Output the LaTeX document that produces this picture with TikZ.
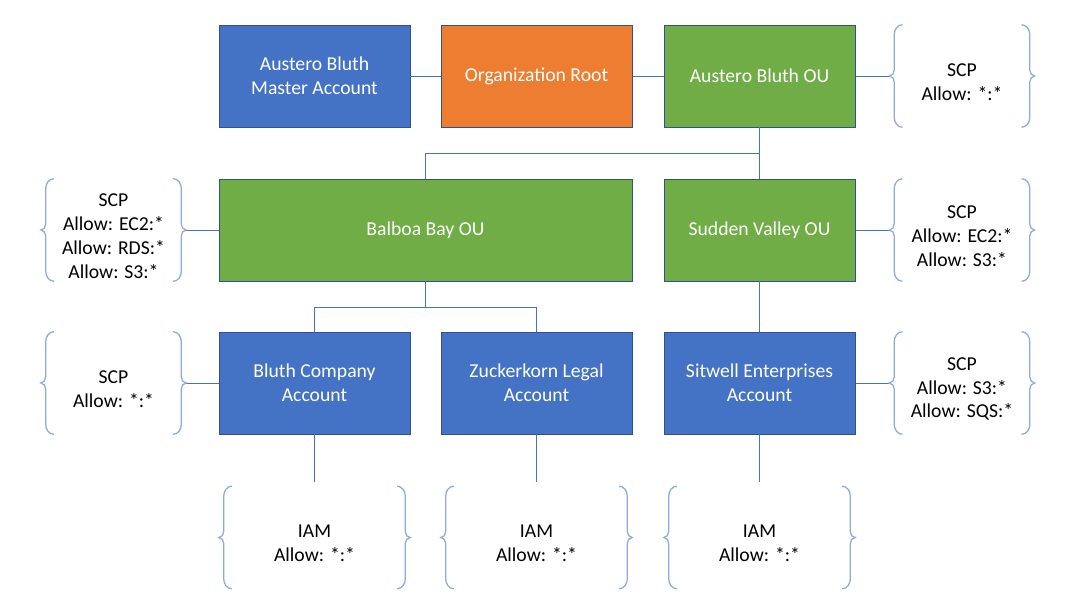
\documentclass[tikz,border=0pt]{standalone}
\usepackage{fontspec}
\setmainfont{Carlito}
\usetikzlibrary{positioning}
\definecolor{acctblue}{HTML}{4472C4}
\definecolor{rootorange}{HTML}{ED7D31}
\definecolor{ougreen}{HTML}{70AD47}
\definecolor{edgeblue}{HTML}{2F528F}
\definecolor{braceblue}{HTML}{8FAADC}
\begin{document}
\begin{tikzpicture}[font=\fontsize{14}{17}\selectfont,
        box/.style={draw=edgeblue,line width=0.7pt,text=white,align=center,
                    minimum width=4.775cm,minimum height=2.55cm,inner sep=0pt},
        account/.style={box,fill=acctblue},
        orgroot/.style={box,fill=rootorange},
        ou/.style={box,fill=ougreen},
        policy/.style={align=center,minimum width=3.625cm,minimum height=2.55cm,inner sep=0pt,yshift=-0.15cm},
        iam/.style={policy,minimum width=4.775cm},
        link/.style={draw=acctblue,line width=0.7pt},
        brace/.style={draw=braceblue,line width=0.9pt}]
    \useasboundingbox (0,0) rectangle (27,15.2);

    % top row
    \node [account] (master) at (7.8625,13.3) {Austero Bluth\\Master Account};
    \node [orgroot] (root)   at (13.4125,13.3) {Organization Root};
    \node [ou]      (abou)   at (18.9875,13.3) {Austero Bluth OU};
    \node [policy]  (scpabou) at (24.05,13.3) {SCP\\Allow: *:*};

    % OUs
    \node [policy]  (scpbalboa) at (2.8375,9.45) {SCP\\Allow: EC2:*\\Allow: RDS:*\\Allow: S3:*};
    \node [ou,minimum width=10.325cm] (balboa) at (10.6375,9.45) {Balboa Bay OU};
    \node [ou]      (sudden) at (18.9875,9.45) {Sudden Valley OU};
    \node [policy]  (scpsudden) at (24.05,9.45) {SCP\\Allow: EC2:*\\Allow: S3:*};

    % accounts
    \node [policy]  (scpbluth) at (2.8375,5.625) {SCP\\Allow: *:*};
    \node [account] (bluth)   at (7.8625,5.625) {Bluth Company\\Account};
    \node [account] (zuck)    at (13.4125,5.625) {Zuckerkorn Legal\\Account};
    \node [account] (sitwell) at (18.9875,5.625) {Sitwell Enterprises\\Account};
    \node [policy]  (scpsitwell) at (24.05,5.625) {SCP\\Allow: S3:*\\Allow: SQS:*};

    % IAM
    \node [iam] (iambluth)   at (7.8625,1.7625) {IAM\\Allow: *:*};
    \node [iam] (iamzuck)    at (13.4125,1.7625) {IAM\\Allow: *:*};
    \node [iam] (iamsitwell) at (18.9875,1.7625) {IAM\\Allow: *:*};

    % connectors
    \draw [link] (master) -- (root);
    \draw [link] (root) -- (abou);
    \draw [link] (abou) -- (abou -| scpabou.west);
    \draw [link] (abou.south) -- ++(0,-0.65) -| (balboa.north);
    \draw [link] (abou) -- (sudden);
    \draw [link] (scpbalboa.east |- balboa) -- (balboa);
    \draw [link] (sudden) -- (sudden -| scpsudden.west);
    \draw [link] (balboa.south) -- ++(0,-0.65) -| (bluth.north);
    \draw [link] (balboa.south) ++(0,-0.65) -| (zuck.north);
    \draw [link] (sudden) -- (sitwell);
    \draw [link] (scpbluth.east |- bluth) -- (bluth);
    \draw [link] (sitwell) -- (sitwell -| scpsitwell.west);
    \foreach \a/\b in {bluth/iambluth,zuck/iamzuck,sitwell/iamsitwell}
        \draw [link] (\a) -- ([yshift=0.25cm]\b.north);

    % braces round the policies
    \foreach \n in {scpabou,scpbalboa,scpsudden,scpbluth,scpsitwell,iambluth,iamzuck,iamsitwell}
        \foreach \a/\s in {west/1,east/-1}
            {\draw [brace] ([xshift=\s*0.33cm,yshift=0.15cm]\n.north \a) to[out=180+90*(1-\s),in=90] ([xshift=\s*0.125cm,yshift=-0.1cm]\n.north \a)
                -- ([xshift=\s*0.125cm,yshift=0.3cm]\n.\a) to[out=-90,in=90-90*\s] ([yshift=0.15cm]\n.\a)
                to[out=90-90*\s,in=90] ([xshift=\s*0.125cm]\n.\a)
                -- ([xshift=\s*0.125cm,yshift=0.4cm]\n.south \a) to[out=-90,in=180+90*(1-\s)] ([xshift=\s*0.33cm,yshift=0.15cm]\n.south \a);}
\end{tikzpicture}
\end{document}
